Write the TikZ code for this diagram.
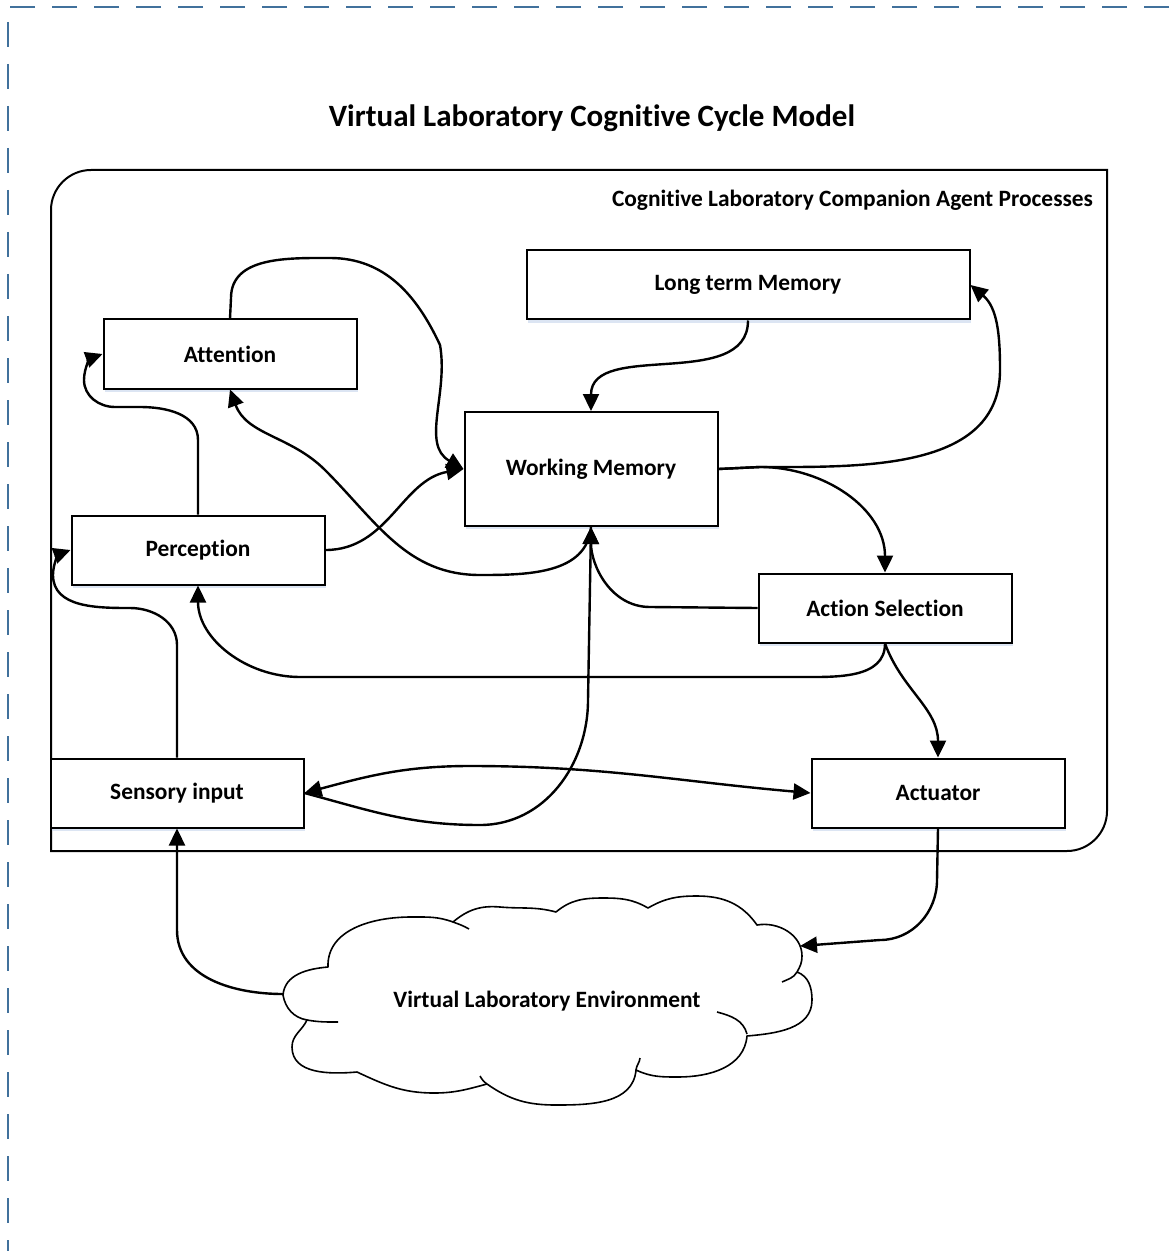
\documentclass[tikz,border=0pt]{standalone}
\usepackage{fontspec}
\setmainfont{Carlito}[Ligatures=NoCommon]
\usetikzlibrary{arrows.meta,shadows}

\definecolor{borderblue}{RGB}{65,113,156}
\definecolor{glow}{RGB}{205,218,238}

\tikzset{
	block/.style={draw, line width=1pt, fill=white, minimum width=126.5pt, minimum height=34.5pt,
		font=\bfseries\fontsize{11.7}{14}\selectfont,
		drop shadow={shadow xshift=0.6pt, shadow yshift=-1.6pt, fill=glow, opacity=0.7}},
	link/.style={line width=1.2pt, -{Triangle[length=8.5pt,width=8pt]}},
	twolink/.style={line width=1.2pt, {Triangle[length=8.5pt,width=8pt]}-{Triangle[length=8.5pt,width=8pt]}},
	frame/.style={line width=1pt},
	cloudline/.style={line width=0.8pt, line join=round},
	pageborder/.style={line width=1pt, borderblue, dash pattern=on 12.5pt off 8.5pt}
}

\begin{document}
\begin{tikzpicture}[x=0.5pt, y=0.5pt]
		\useasboundingbox (0,0) rectangle (1169,-1251);
		
		% page border
		\draw[pageborder] (1169,-7) -- (8,-7) -- (8,-1251);
		
		% title and agent frame
		\node[font=\bfseries\fontsize{15.5}{18}\selectfont] (title) at (592,-118) {Virtual Laboratory Cognitive Cycle Model};
		\draw[frame] (51,-851) -- (51,-210) .. controls (51,-188) and (69,-170) .. (91,-170)
		-- (1107,-170) -- (1107,-811) .. controls (1107,-833) and (1089,-851) .. (1067,-851) -- cycle;
		\node[anchor=east, font=\bfseries\fontsize{11.7}{14}\selectfont] (agent) at (1100,-200) {Cognitive Laboratory Companion Agent Processes};
		
		% the processes
		\node[block, minimum width=221.5pt] (ltm) at (748,-285) {Long term Memory};
		\node[block] (att) at (230,-354) {Attention};
		\node[block, minimum height=57pt] (wm) at (591,-469) {Working Memory};
		\node[block] (perc) at (198,-550) {Perception};
		\node[block] (act) at (885,-608) {Action Selection};
		\node[block] (sens) at (177,-793) {Sensory input};
		\node[block] (actu) at (938,-793) {Actuator};
		
		% the cloud
		\draw[cloudline, fill=white] (283,-995)
		to[out=85,in=185] (328,-967)
		to[out=92,in=180] (411,-917) to[out=0,in=160] (453,-922)
		to[out=40,in=175] (500,-907) to[out=-5,in=165] (556,-912)
		to[out=40,in=180] (603,-898) to[out=0,in=150] (648,-908)
		to[out=30,in=180] (697,-896) to[out=0,in=125] (757,-925)
		to[out=10,in=90] (802,-956) to[out=-90,in=60] (797,-972)
		to[out=-20,in=90] (812,-1000) to[out=-90,in=5] (747,-1036)
		to[out=-95,in=0] (678,-1077) to[out=180,in=-25] (636,-1070)
		to[out=-95,in=0] (556,-1105) to[out=180,in=-35] (487,-1084)
		to[out=195,in=0] (434,-1093) to[out=180,in=-25] (357,-1072)
		to[out=185,in=-90] (292,-1047) to[out=90,in=-115] (307,-1020)
		to[out=170,in=-80] cycle;
		\draw[cloudline] (453,-922) to[out=-20,in=150] (469,-929);
		\draw[cloudline] (797,-972) to[out=-120,in=25] (782,-982);
		\draw[cloudline] (747,-1034) to[out=105,in=-15] (717,-1012);
		\draw[cloudline] (636,-1070) to[out=85,in=-95] (640,-1058);
		\draw[cloudline] (487,-1084) to[out=145,in=-60] (480,-1076);
		\draw[cloudline] (307,-1020) to[out=-10,in=180] (338,-1022);
		\node[font=\bfseries\fontsize{11.7}{14}\selectfont] (env) at (547,-1001) {Virtual Laboratory Environment};
		\coordinate (envin) at (800,-946);
		\coordinate (envout) at (283,-994);
		
		% connectors
		\draw[link] (att.north) -- (231,-298) to[out=90,in=180] (330,-258) to[out=0,in=115] (440,-345) to[out=-80,in=150] (wm.west);
		\draw[link] (perc.north) -- (198,-440) to[out=90,in=0] (140,-407) -- (115,-407) to[out=180,in=-90] (84,-380) to[out=90,in=200] (att.west);
		\draw[link] (perc.east) to[out=0,in=190] (wm.west);
		\draw[link] (wm.south) to[out=-95,in=0] (480,-575) to[out=180,in=-45] (325,-470) to[out=135,in=-70] (att.south);
		\draw[link] (ltm.south) to[out=-90,in=90] (wm.north);
		\draw[link] (wm.east) -- (760,-467) to[out=0,in=-90] (1000,-370) to[out=90,in=-40] (ltm.east);
		\draw[link] (wm.east) -- (760,-467) to[out=0,in=90] (act.north);
		\draw[link] (act.west) -- (650,-607) to[out=180,in=-90] (wm.south);
		\draw[link] (act.south) to[out=-90,in=0] (800,-677) -- (300,-677) to[out=180,in=-90] (perc.south);
		\draw[link] (act.south) to[out=-70,in=90] (actu.north);
		\draw[link] (sens.north) -- (177,-645) to[out=90,in=0] (130,-608) to[out=180,in=-90] (53,-575) to[out=90,in=200] (perc.west);
		\draw[twolink] (sens.east) to[out=15,in=180] (470,-766) to[out=0,in=175] (actu.west);
		\draw[link] (sens.east) to[out=-15,in=180] (480,-825) to[out=0,in=-90] (588,-700) -- (wm.south);
		\draw[link] (actu.south) -- (937,-880) to[out=-90,in=0] (880,-940) -- (envin);
		\draw[link] (envout) to[out=180,in=-90] (177,-930) -- (sens.south);
		
	\end{tikzpicture}
\end{document}
